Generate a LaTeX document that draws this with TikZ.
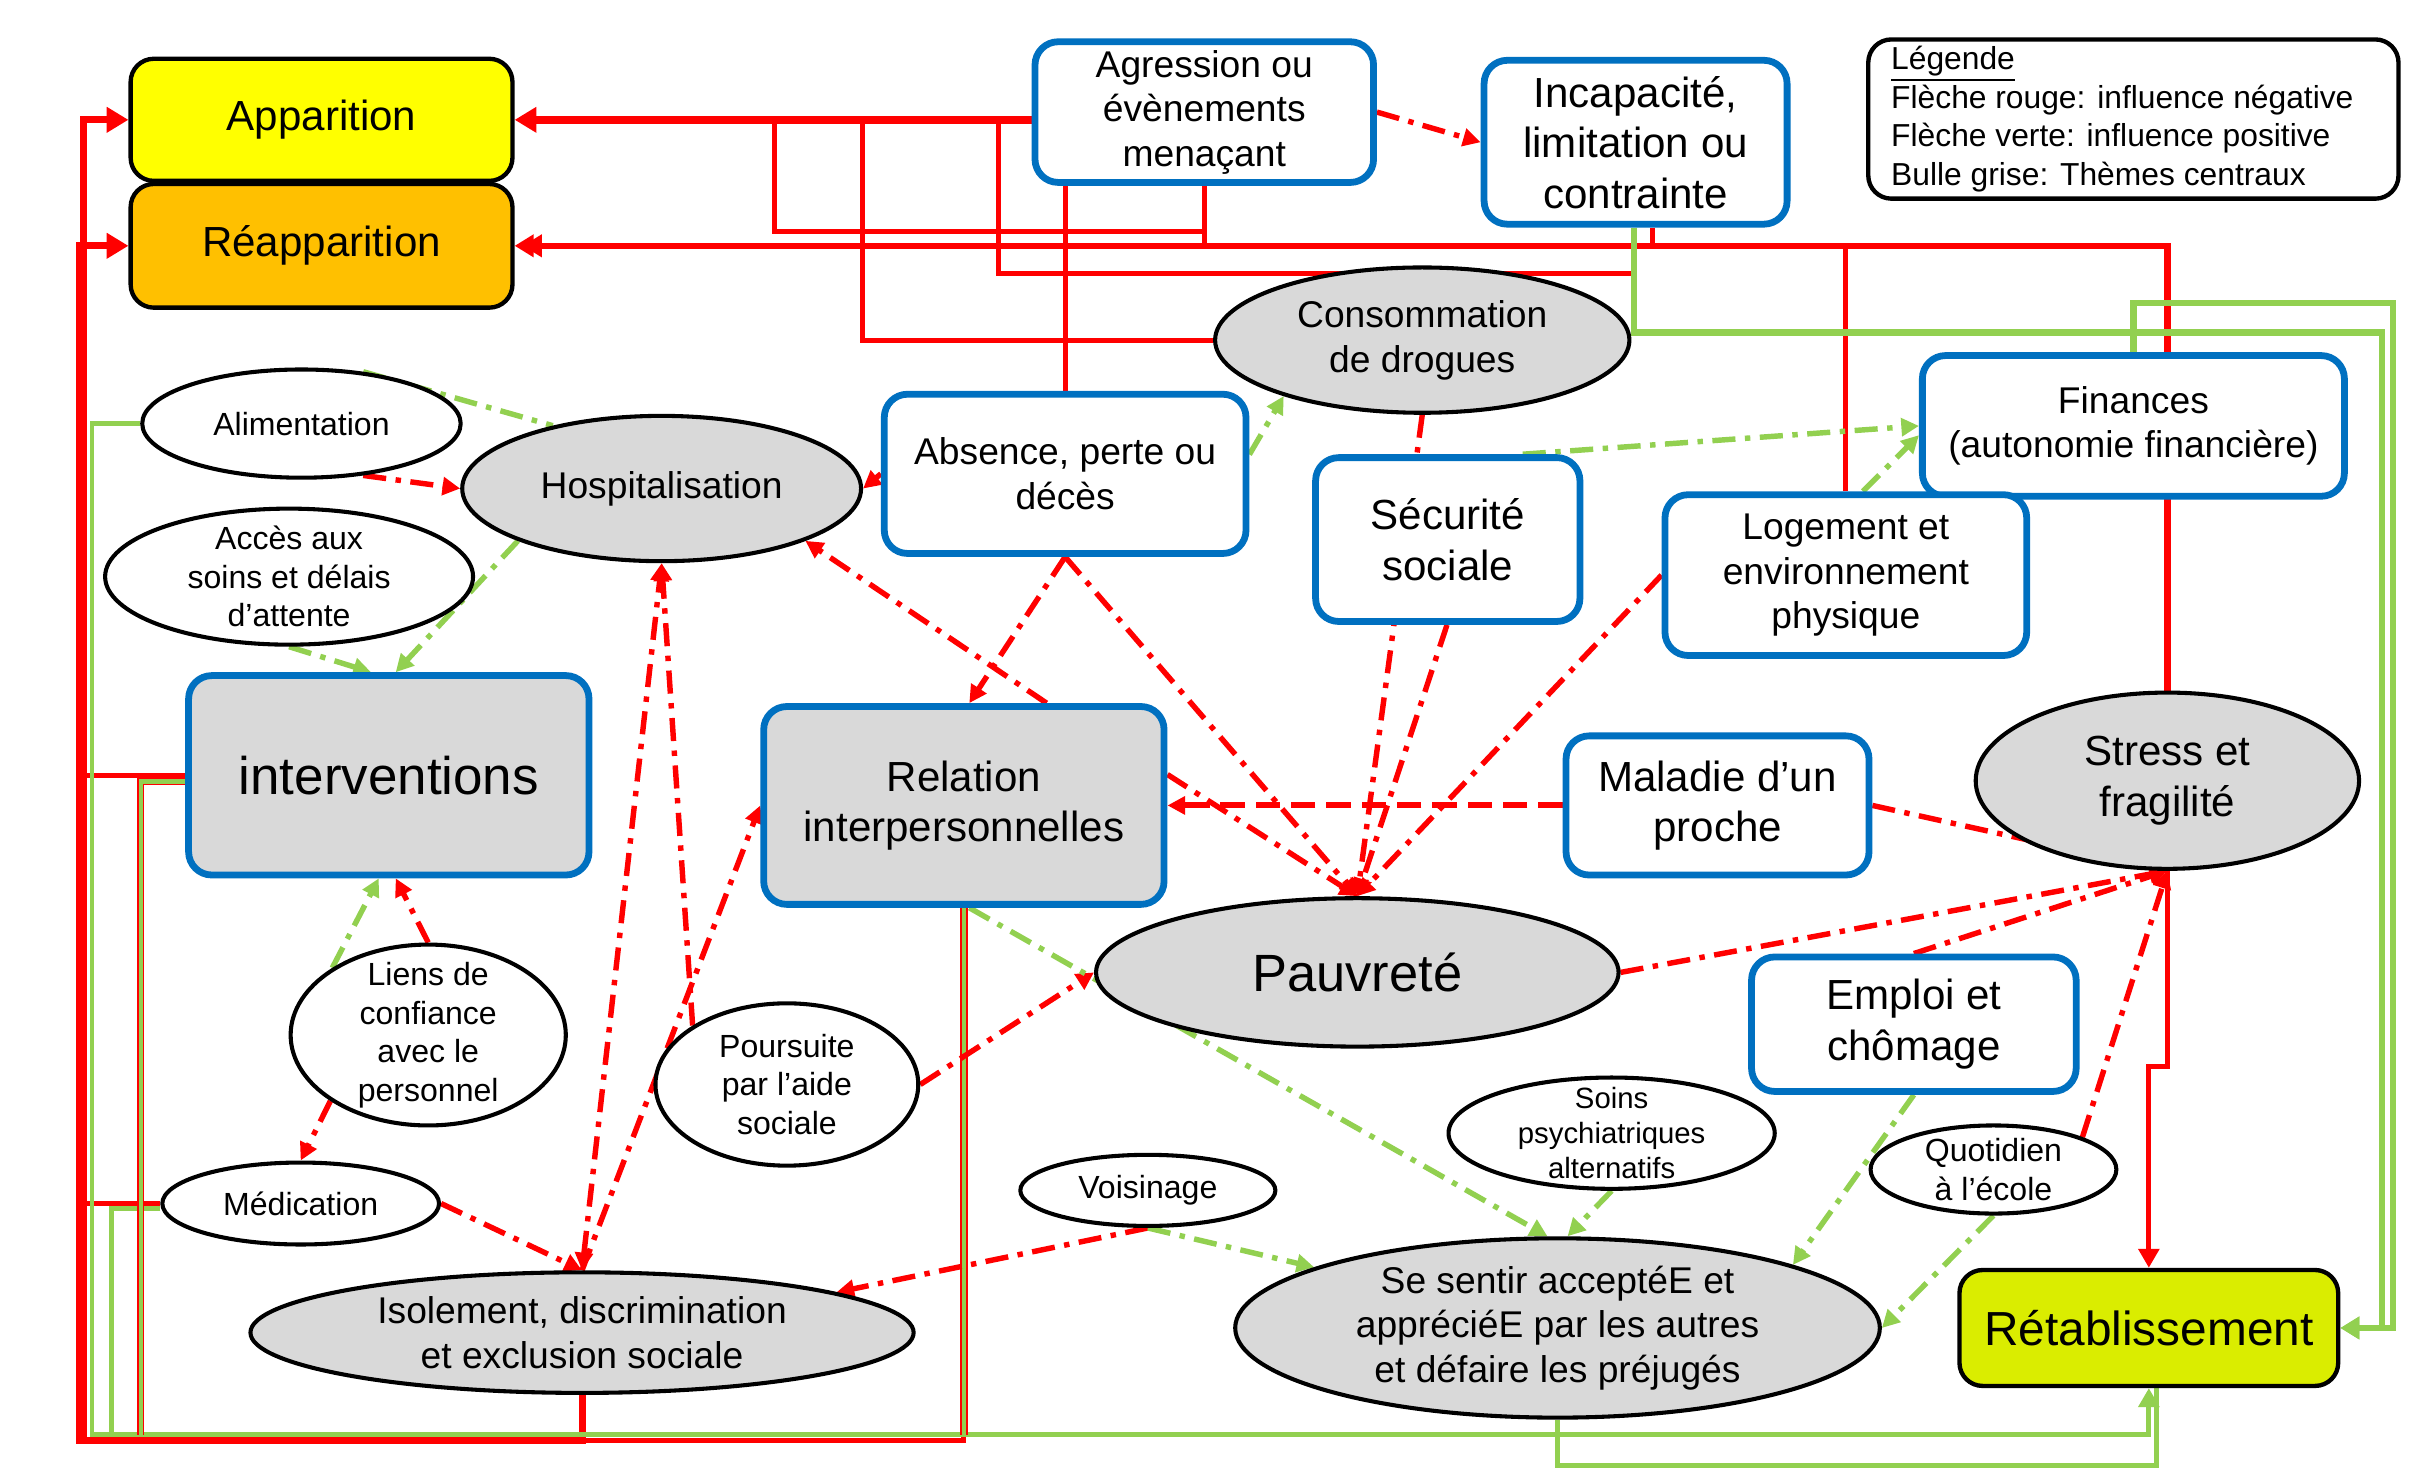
\documentclass[tikz,border=0pt]{standalone}
\usepackage{fontspec}
\setmainfont{Liberation Sans}
\usetikzlibrary{shapes.geometric,arrows.meta,calc,backgrounds}
\definecolor{rred}{RGB}{255,0,0}
\definecolor{ggreen}{RGB}{146,208,80}
\definecolor{bblue}{RGB}{0,112,192}
\definecolor{ggrey}{RGB}{217,217,217}
\definecolor{yellowc}{RGB}{255,255,0}
\definecolor{orangec}{RGB}{255,192,0}
\definecolor{retabc}{RGB}{218,237,0}
\tikzset{
  sz/.style 2 args={minimum width={(#1)*0.02cm}, minimum height={(#2)*0.02cm}},
  f193/.style={font=\fontsize{19.3pt}{23.2pt}\selectfont},
  f195/.style={font=\fontsize{19.5pt}{23.4pt}\selectfont},
  f176/.style={font=\fontsize{17.6pt}{21.1pt}\selectfont},
  f155/.style={font=\fontsize{15.5pt}{18.6pt}\selectfont},
  f137/.style={font=\fontsize{13.7pt}{16.4pt}\selectfont},
  f118/.style={font=\fontsize{11.8pt}{14.2pt}\selectfont},
  f117/.style={font=\fontsize{11.7pt}{14.2pt}\selectfont},
  f108/.style={font=\fontsize{10.8pt}{12.9pt}\selectfont},
  bbox/.style={draw=bblue, line width=2.5pt, rounded corners=0.3cm, fill=white, align=center, inner sep=0pt},
  gbox/.style={bbox, fill=ggrey},
  kbox/.style={draw=black, line width=1.6pt, rounded corners=0.3cm, align=center, inner sep=0pt},
  ell/.style={ellipse, draw=black, line width=1.5pt, fill=white, inner sep=0pt},
  gell/.style={ell, fill=ggrey},
  lab/.style={align=center, inner sep=0pt},
  rthick/.style={draw=rred, line width=2.6pt},
  rmid/.style={draw=rred, line width=2.4pt},
  rthin/.style={draw=rred, line width=1.8pt},
  gline/.style={draw=ggreen, line width=1.8pt},
  gwide/.style={draw=ggreen, line width=2.3pt},
  grl/.style={draw=rred, line width=0.6pt, double=ggreen, double distance=1.5pt},
  rdd/.style={draw=rred, line width=2pt, dash pattern=on 8.5pt off 3.5pt on 2pt off 3.5pt},
  gdd/.style={draw=ggreen, line width=2pt, dash pattern=on 8.5pt off 3.5pt on 2pt off 3.5pt},
  rdash/.style={draw=rred, line width=2.2pt, dash pattern=on 9pt off 4pt},
  bigtip/.style={-{Triangle[length=8pt,width=9pt]}},
}
\begin{document}
\begin{tikzpicture}[x=0.02cm, y=-0.02cm, >={Triangle[length=6.5pt,width=6.5pt]}]
\useasboundingbox (0,0) rectangle (1568,958);

% ---------- nodes ----------
\node[kbox, fill=yellowc, sz={247}{79}, f155] (app) at (208,77.5) {Apparition};
\node[kbox, fill=orangec, sz={247}{80}, f155] (reapp) at (208,159) {Réapparition};
\node[bbox, sz={219}{91}, f137] (agr) at (779,72.5) {Agression ou\\évènements\\menaçant};
\node[bbox, sz={196}{106}, f155] (inc) at (1058,92) {Incapacité,\\limitation ou\\contrainte};
\node[kbox, fill=white, sz={343}{103}] (leg) at (1380,77) {};
\node[anchor=west, align=left, inner sep=0pt, f117] (legt) at (1223,77)
  {\underline{Légende}\\Flèche rouge: influence négative\\Flèche verte: influence positive\\Bulle grise: Thèmes centraux};
\node[bbox, sz={273}{91}, f137] (fin) at (1380,275.5) {Finances\\(autonomie financière)};
\node[bbox, sz={234}{104}, f137] (log) at (1194,372) {Logement et\\environnement\\physique};
\node[bbox, sz={171}{106}, f155] (sec) at (936.5,349) {Sécurité\\sociale};
\node[bbox, sz={234}{103}, f137] (abs) at (689,306.5) {Absence, perte ou\\décès};
\node[gell, sz={268}{94}, label={[lab,f137]center:{Consommation\\de drogues}}] (cons) at (920,220) {};
\node[gell, sz={258}{94}, label={[lab,f137]center:{Hospitalisation}}] (hosp) at (428,316) {};
\node[ell, sz={206}{70}, label={[lab,f118]center:{Alimentation}}] (alim) at (195,274) {};
\node[ell, sz={238}{88}, label={[lab,f118]center:{Accès aux\\soins et délais\\d’attente}}] (acc) at (187,373) {};
\node[gbox, sz={259}{129}, f195] (int) at (251.5,501.5) {interventions};
\node[gbox, sz={259}{128}, f155] (rel) at (623.5,521) {Relation\\interpersonnelles};
\node[bbox, sz={196}{90}, f155] (mal) at (1111,521) {Maladie d’un\\proche};
\node[gell, sz={248}{114}, label={[lab,f155]center:{Stress et\\fragilité}}] (stress) at (1402,505) {};
\node[gell, sz={338}{96}, label={[lab,f193]center:{Pauvreté}}] (pauv) at (878,629) {};
\node[bbox, sz={210}{87}, f155] (emp) at (1238,662.5) {Emploi et\\chômage};
\node[ell, sz={178}{117}, label={[lab,f118]center:{Liens de\\confiance\\avec le\\personnel}}] (liens) at (277,669.5) {};
\node[ell, sz={170}{105}, label={[lab,f118]center:{Poursuite\\par l’aide\\sociale}}] (pours) at (509,701.5) {};
\node[ell, sz={179}{53}, label={[lab,f118]center:{Médication}}] (med) at (194.5,778.5) {};
\node[gell, sz={429}{78}, label={[lab,f137]center:{Isolement, discrimination\\et exclusion sociale}}] (iso) at (376.5,862) {};
\node[ell, sz={165}{46}, label={[lab,f118]center:{Voisinage}}] (vois) at (742.5,770) {};
\node[ell, sz={211}{72}, label={[lab,f108]center:{Soins\\psychiatriques\\alternatifs}}] (soins) at (1042.5,733) {};
\node[gell, sz={417}{116}, label={[lab,f137]center:{Se sentir acceptéE et\\appréciéE par les autres\\et défaire les préjugés}}] (sesent) at (1007.5,859) {};
\node[ell, sz={159}{57}, label={[lab,f118]center:{Quotidien\\à l’école}}] (quot) at (1289.5,756.5) {};
\node[kbox, fill=retabc, sz={245}{75}, f176] (retab) at (1390,859) {Rétablissement};

% ---------- connectors ----------
\begin{pgfonlayer}{background}
\fill[white] (0,0) rectangle (1568,958);

% top red network
\draw[rthin] (agr.south) -- (agr.south |- 0,150) -- (501,150) -- (501,77.5);
\draw[rthin] (abs.north) -- (abs.north |- agr.south);
\draw[rthin] (cons.west) -| (558,77.5);
\draw[rthin] (1057,0 |- inc.south) -- (1057,177) -| (646,77.5);
\draw[rthin] (1069,0 |- inc.south) -- (1069,159);
\draw[rthin] (log.north) -- (log.north |- 0,159);
\draw[rthin] (agr.south) -- (agr.south |- 0,159);
\draw[rmid, -{Triangle[length=7pt,width=8pt,sep=-4pt]Triangle[length=7pt,width=8pt]}]
  (stress.north) -- (stress.north |- reapp.east) -- (reapp.east);
\draw[rthick, line width=3pt, bigtip] (agr.west |- app.east) -- (app.east);
\draw[rthin, -{Triangle[length=7pt,width=7.5pt]}] (stress.south) |- (1390,690) -- (retab.north);

% left red network
\draw[rthin] (rel.south) |- (52,932);
\draw[rthick, bigtip] (iso.south) |- (51.5,932) |- (reapp.west);
\draw[rthick, bigtip] (iso.south) |- (54,932) |- (app.west);
\draw[rthin] (int.west) -- (int.west -| 52,0);
\draw[rthin] (med.west) -- (med.west -| 52,0);

% green network
\draw[gline, -{Triangle[length=7pt,width=7.5pt]}] (alim.west) -| (59.5,928) -| (retab.south);
\draw[gline] ($(med.west)+(0,3)$) -| (72,928);
\draw[grl] ($(int.west)+(0,4)$) -| (91,928);
\draw[grl] (rel.south) -- (rel.south |- 0,928);
\draw[gline] (sesent.south) |- (1395,948) -- (1395,0 |- retab.south);
\draw[gwide, -{Triangle[length=7pt,width=8pt]}] (1057,0 |- inc.south) |- (1541,215) |- (retab.east);
\draw[gwide, -{Triangle[length=7pt,width=8pt]}] (fin.north) |- (1548,196) |- (retab.east);

% red dash-dot influences
\draw[rdd,->] (agr.east) -- (inc.west);
\draw[rdd,->] (alim.-40) -- (hosp.west);
\draw[rdd,->] (abs.west) -- (hosp.east);
\draw[rdd,->] (677,0 |- rel.north) -- (hosp.-20);
\draw[rdd,->] (abs.south) -- (627,0 |- rel.north);
\draw[rdd,->] (abs.south) -- (pauv.north);
\draw[rdd,->] (cons.south) -- (pauv.north);
\draw[rdd,->] (936,0 |- sec.south) -- (pauv.north);
\draw[rdd,->] (log.west) -- (pauv.north);
\draw[rdash,->] (mal.west) -- (rel.east);
\draw[rdd,->] ($(rel.east)+(0,-20)$) -- (pauv.north);
\draw[rdd,->] (pours.east) -- (pauv.west);
\draw[rdd,->] (pauv.east) -- (stress.south);
\draw[rdd,->] (mal.east) -- (stress.south);
\draw[rdd,->] (emp.north) -- (stress.south);
\draw[rdd,->] (quot.20) -- (stress.south);
\draw[rdd,->] (liens.north) -- (256,0 |- int.south);
\draw[rdd,->] (liens.214) -- (med.north);
\draw[rdd,->] (med.east) -- (iso.north);
\draw[rdd,<->] (iso.north) -- (hosp.south);
\draw[rdd,->] (pours.148) -- (hosp.south);
\draw[rdd,->] (iso.north) -- (rel.west);
\draw[rdd,->] (vois.south) -- (iso.9);

% green dash-dot influences
\draw[gdd,->] (vois.south) -- (sesent.166);
\draw[gdd] (alim.40) -- (hosp.150);
\draw[gdd,->] (hosp.200) -- (256,0 |- int.north);
\draw[gdd,->] (acc.south) -- (240,0 |- int.north);
\draw[gdd,->] (liens.145) -- (245,0 |- int.south);
\draw[gdd,->] (abs.6) -- (cons.202);
\draw[gdd,->] (985,0 |- sec.north) -- (fin.west);
\draw[gdd,->] (1205,0 |- log.north) -- ($(fin.west)+(0,6)$);
\draw[gdd,->] (627,0 |- rel.south) -- (1001,0 |- sesent.north);
\draw[gdd,->] (soins.south) -- (1014,0 |- sesent.north);
\draw[gdd,->] (emp.south) -- (sesent.15);
\draw[gdd,->] (quot.south) -- (sesent.east);
\end{pgfonlayer}
\end{tikzpicture}
\end{document}
